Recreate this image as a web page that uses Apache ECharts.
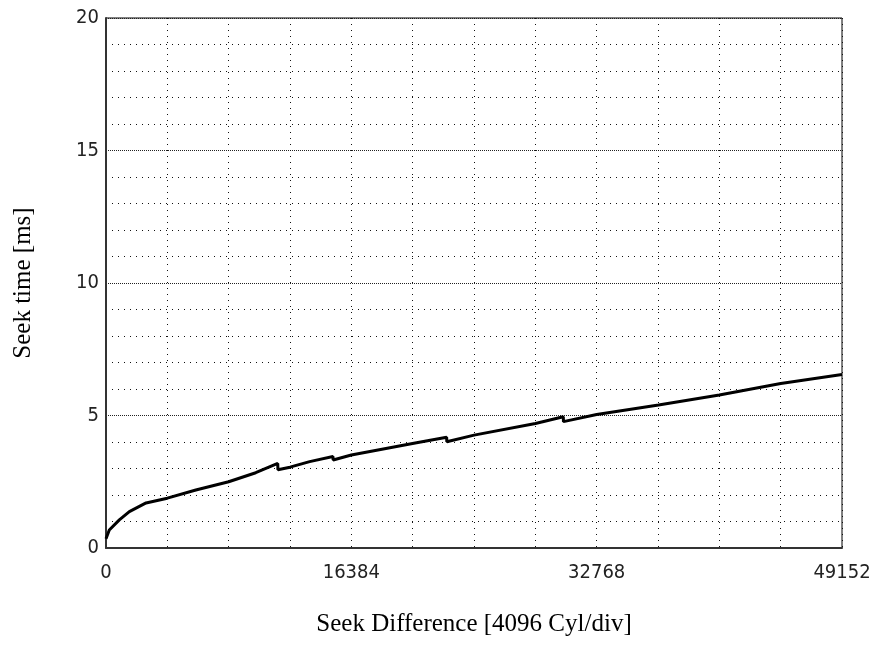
<!DOCTYPE html>
<html>
<head>
<meta charset="utf-8">
<script src="https://cdn.jsdelivr.net/npm/echarts@6/dist/echarts.min.js"></script>
<style>
  html, body { margin: 0; padding: 0; background: #fff; }
  #chart { width: 878px; height: 648px; }
</style>
</head>
<body>
<div id="chart"></div>
<script>
// seek time curve
var seekCyl = [0, 220, 890, 1560, 2675, 4096, 6000, 8192, 10000, 11470, 11480, 12288, 13600, 15160, 15170, 16384, 20560, 22750, 22760, 24580, 28680, 30540, 30550, 32768, 36900, 40960, 45060, 49152];
var seekMs  = [0.35, 0.68, 1.06, 1.37, 1.70, 1.88, 2.19, 2.50, 2.84, 3.19, 2.95, 3.05, 3.26, 3.45, 3.32, 3.51, 3.95, 4.18, 4.01, 4.26, 4.70, 4.95, 4.77, 5.04, 5.40, 5.77, 6.21, 6.55];

var xLabels = [0, 16384, 32768, 49152];
var yLabels = [0, 5, 10, 15, 20];

var tickFont = { fontFamily: 'DejaVu Sans Condensed, Liberation Sans Narrow, sans-serif', fontSize: 20, color: '#222' };
var nameFont = { fontFamily: 'Liberation Serif, serif', fontSize: 25, color: '#000' };

var chart = echarts.init(document.getElementById('chart'));

var option = {
    animation: false,
    grid: {
        left: 106, top: 18, right: 36, bottom: 100,
        show: true, borderColor: '#000', borderWidth: 1
    },
    xAxis: {
        type: 'value',
        min: 0, max: 49152, interval: 4096,
        name: 'Seek Difference [4096 Cyl/div]',
        nameLocation: 'middle', nameGap: 64,
        nameTextStyle: nameFont,
        axisLine: { lineStyle: { color: '#333', width: 2 } },
        axisTick: { show: false },
        axisLabel: Object.assign({
            margin: 15,
            formatter: function (v) { return xLabels.indexOf(v) >= 0 ? String(v) : ''; }
        }, tickFont),
        splitLine: { show: true, lineStyle: { color: '#111', width: 1, type: [1, 5] } }
    },
    yAxis: [{
        type: 'value',
        min: 0, max: 20, interval: 1,
        name: 'Seek time [ms]',
        nameLocation: 'middle', nameGap: 70,
        nameTextStyle: nameFont,
        axisLine: { show: true, lineStyle: { color: '#333', width: 2 } },
        axisTick: { show: false },
        axisLabel: Object.assign({
            margin: 7,
            formatter: function (v) { return yLabels.indexOf(v) >= 0 ? String(v) : ''; }
        }, tickFont),
        splitLine: { show: true, lineStyle: { color: '#111', width: 1, type: [1, 5] } }
    }, {
        // major lines every 5 ms, finer dots
        type: 'value',
        position: 'left',
        min: 0, max: 20, interval: 5,
        axisLine: { show: false },
        axisTick: { show: false },
        axisLabel: { show: false },
        splitLine: { show: true, lineStyle: { color: '#222', width: 1, type: [1, 1] } }
    }],
    series: [{
        type: 'line',
        data: seekCyl.map(function (c, i) { return [c, seekMs[i]]; }),
        showSymbol: false,
        lineStyle: { color: '#000', width: 3 },
        z: 5
    }]
};

chart.setOption(option);
</script>
</body>
</html>
